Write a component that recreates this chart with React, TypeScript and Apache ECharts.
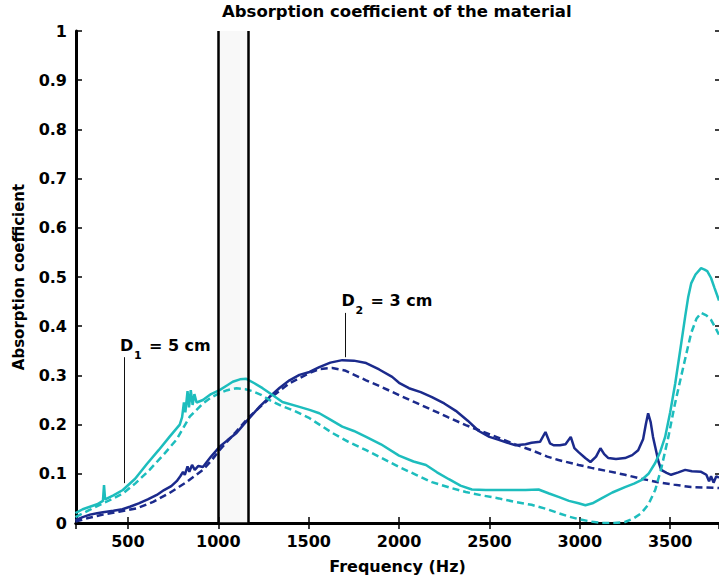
import React, { useEffect, useRef } from "react";
import * as echarts from "echarts";

const titleText = "Absorption coefficient of the material";
const xName = "Frequency (Hz)";
const yName = "Absorption coefficient";

const cyanSolidF = [210, 250, 290, 330, 362, 368, 374, 420, 472, 540, 605, 670, 730, 787, 800, 810, 818, 830, 838, 848, 858, 868, 880, 915, 960, 1007, 1050, 1080, 1120, 1155, 1200, 1245, 1300, 1355, 1449, 1505, 1559, 1620, 1686, 1750, 1818, 1900, 2000, 2080, 2149, 2210, 2276, 2340, 2403, 2480, 2600, 2700, 2772, 2830, 2882, 2940, 2993, 3031, 3070, 3120, 3180, 3250, 3300, 3340, 3380, 3417, 3445, 3472, 3500, 3528, 3555, 3583, 3600, 3616, 3640, 3671, 3690, 3705, 3726, 3745, 3770];
const cyanSolidV = [0.020, 0.028, 0.033, 0.038, 0.045, 0.077, 0.048, 0.056, 0.067, 0.090, 0.120, 0.148, 0.175, 0.200, 0.215, 0.245, 0.225, 0.268, 0.235, 0.270, 0.240, 0.262, 0.245, 0.250, 0.262, 0.270, 0.280, 0.287, 0.292, 0.293, 0.284, 0.274, 0.260, 0.246, 0.236, 0.230, 0.223, 0.210, 0.196, 0.187, 0.175, 0.160, 0.137, 0.125, 0.118, 0.103, 0.089, 0.076, 0.068, 0.067, 0.067, 0.067, 0.068, 0.060, 0.053, 0.045, 0.040, 0.036, 0.040, 0.050, 0.062, 0.073, 0.080, 0.087, 0.100, 0.122, 0.145, 0.175, 0.225, 0.284, 0.350, 0.420, 0.460, 0.487, 0.505, 0.518, 0.515, 0.512, 0.498, 0.478, 0.452];

const cyanDashedF = [210, 280, 362, 420, 472, 540, 620, 700, 770, 842, 915, 960, 1007, 1050, 1101, 1150, 1190, 1240, 1283, 1350, 1420, 1505, 1631, 1720, 1818, 1900, 2000, 2100, 2182, 2280, 2369, 2460, 2552, 2640, 2733, 2820, 2882, 2940, 2993, 3060, 3120, 3190, 3250, 3300, 3340, 3380, 3417, 3450, 3490, 3525, 3560, 3590, 3616, 3645, 3671, 3700, 3726, 3745, 3770];
const cyanDashedV = [0.012, 0.025, 0.040, 0.050, 0.060, 0.080, 0.108, 0.140, 0.170, 0.216, 0.243, 0.255, 0.264, 0.270, 0.274, 0.272, 0.268, 0.260, 0.250, 0.238, 0.228, 0.213, 0.183, 0.165, 0.148, 0.133, 0.114, 0.097, 0.083, 0.072, 0.063, 0.056, 0.050, 0.043, 0.037, 0.028, 0.020, 0.013, 0.008, 0.003, 0.000, 0.000, 0.002, 0.010, 0.020, 0.038, 0.067, 0.110, 0.175, 0.240, 0.297, 0.345, 0.386, 0.415, 0.427, 0.422, 0.413, 0.400, 0.383];

const navySolidF = [210, 250, 290, 330, 362, 420, 470, 511, 560, 610, 660, 700, 740, 770, 790, 805, 815, 830, 840, 855, 870, 890, 915, 960, 1007, 1050, 1101, 1140, 1172, 1230, 1283, 1340, 1394, 1449, 1505, 1559, 1620, 1686, 1750, 1818, 1890, 1962, 2000, 2055, 2120, 2182, 2250, 2314, 2380, 2441, 2500, 2552, 2600, 2645, 2700, 2733, 2780, 2810, 2835, 2855, 2890, 2921, 2950, 2970, 2993, 3030, 3059, 3090, 3114, 3135, 3158, 3200, 3250, 3290, 3323, 3350, 3365, 3378, 3392, 3405, 3417, 3435, 3450, 3480, 3505, 3545, 3583, 3620, 3671, 3700, 3715, 3726, 3740, 3755, 3770];
const navySolidV = [0.006, 0.012, 0.017, 0.020, 0.022, 0.025, 0.028, 0.033, 0.040, 0.048, 0.057, 0.067, 0.075, 0.085, 0.095, 0.104, 0.098, 0.115, 0.104, 0.118, 0.108, 0.116, 0.114, 0.135, 0.155, 0.168, 0.183, 0.200, 0.213, 0.237, 0.256, 0.275, 0.290, 0.301, 0.307, 0.317, 0.326, 0.331, 0.330, 0.325, 0.312, 0.297, 0.285, 0.274, 0.266, 0.256, 0.243, 0.228, 0.208, 0.187, 0.175, 0.169, 0.163, 0.158, 0.160, 0.163, 0.165, 0.185, 0.162, 0.158, 0.158, 0.160, 0.175, 0.152, 0.144, 0.132, 0.124, 0.135, 0.152, 0.140, 0.132, 0.130, 0.132, 0.138, 0.148, 0.170, 0.200, 0.223, 0.205, 0.175, 0.155, 0.125, 0.108, 0.102, 0.098, 0.103, 0.108, 0.105, 0.104, 0.098, 0.085, 0.095, 0.082, 0.095, 0.092];

const navyDashedF = [210, 280, 362, 450, 550, 640, 730, 820, 915, 960, 1007, 1090, 1172, 1280, 1394, 1505, 1559, 1631, 1700, 1818, 1900, 2000, 2090, 2182, 2270, 2369, 2460, 2552, 2640, 2733, 2820, 2882, 2993, 3065, 3160, 3250, 3340, 3433, 3520, 3616, 3700, 3770];
const navyDashedV = [0.003, 0.010, 0.017, 0.023, 0.030, 0.043, 0.061, 0.082, 0.108, 0.126, 0.148, 0.182, 0.216, 0.252, 0.284, 0.305, 0.313, 0.315, 0.310, 0.290, 0.277, 0.260, 0.245, 0.230, 0.215, 0.199, 0.186, 0.173, 0.160, 0.148, 0.135, 0.128, 0.118, 0.112, 0.105, 0.098, 0.090, 0.083, 0.078, 0.073, 0.072, 0.071];

const bandEdges = [1000, 1165];
const d1Leader = [478, 0.337, 0.081];
const d2Leader = [1704, 0.427, 0.337];
const d1Sub = "1";
const d2Sub = "2";
const d1Rest = "= 5 cm";
const d2Rest = "= 3 cm";

const CYAN = "#1DBDBD";
const NAVY = "#1B2A8C";
const FONT = "DejaVu Sans";

const pair = (f: number[], v: number[]) => f.map((x, i) => [x, v[i]]);

export default function App() {
  const ref = useRef<HTMLDivElement>(null);
  useEffect(() => {
    const chart = echarts.init(ref.current!, null, { renderer: "svg" });
    const labelStyle = { color: "#000", fontFamily: FONT, fontWeight: "bold" as const, fontSize: 16 };
    const tick = { inside: true, length: 6, lineStyle: { color: "#000", width: 1.5 } };
    const line = { lineStyle: { color: "#000", width: 3 } };
    const xCommon = { type: "value" as const, min: 213, max: 3770, splitNumber: 7, splitLine: { show: false }, axisLine: line, axisTick: tick };
    const yCommon = { type: "value" as const, min: 0, max: 1, interval: 0.1, splitLine: { show: false }, axisLine: line, axisTick: tick };
    const mkLine = (name: string, f: number[], v: number[], color: string, dashed: boolean) => ({
      name, type: "line", data: pair(f, v), showSymbol: false, symbol: "none", z: 2,
      lineStyle: { color, width: 2.5, type: dashed ? [7, 4] : "solid" },
    });
    chart.setOption({
      animation: false,
      backgroundColor: "#fff",
      title: { text: titleText, left: 222, top: 3, padding: 0, textStyle: { color: "#000", fontFamily: FONT, fontWeight: "bold", fontSize: 16.5 } },
      grid: { left: 76, top: 31, width: 645, height: 492, containLabel: false },
      xAxis: [
        { ...xCommon, position: "bottom", axisLabel: { ...labelStyle, margin: 10, showMinLabel: false, showMaxLabel: false, formatter: (v: number) => String(v) },
          name: xName, nameLocation: "middle", nameGap: 35, nameTextStyle: { color: "#000", fontFamily: FONT, fontWeight: "bold", fontSize: 16 } },
        { ...xCommon, position: "top", axisLabel: { show: false } },
      ],
      yAxis: [
        { ...yCommon, position: "left", axisLabel: { ...labelStyle, margin: 9 },
          name: yName, nameLocation: "middle", nameGap: 50, nameTextStyle: { color: "#000", fontFamily: FONT, fontWeight: "bold", fontSize: 15 } },
        { ...yCommon, position: "right", axisLine: { show: false }, axisLabel: { show: false }, axisTick: { ...tick, length: 4 } },
      ],
      series: [
        mkLine("D2 model", navyDashedF, navyDashedV, NAVY, true),
        mkLine("D2 measured", navySolidF, navySolidV, NAVY, false),
        mkLine("D1 model", cyanDashedF, cyanDashedV, CYAN, true),
        mkLine("D1 measured", cyanSolidF, cyanSolidV, CYAN, false),
        {
          name: "band", type: "line", data: [], z: 5,
          markArea: { silent: true, itemStyle: { color: "rgba(228,228,228,0.27)" }, data: [[{ xAxis: bandEdges[0] }, { xAxis: bandEdges[1] }]] },
          markLine: {
            silent: true, symbol: ["none", "none"], label: { show: false },
            lineStyle: { color: "#000", width: 2.5, type: "solid" },
            data: [
              { xAxis: bandEdges[0] },
              { xAxis: bandEdges[1] },
              [{ coord: [d1Leader[0], d1Leader[1]], lineStyle: { width: 1, color: "#111", type: "solid" } }, { coord: [d1Leader[0], d1Leader[2]] }],
              [{ coord: [d2Leader[0], d2Leader[1]], lineStyle: { width: 1, color: "#111", type: "solid" } }, { coord: [d2Leader[0], d2Leader[2]] }],
            ],
          },
        },
      ],
    });
    const big = `bold 16px "${FONT}"`;
    const small = `bold 11px "${FONT}"`;
    const label = (lead: number[], sub: string, rest: string) => {
      const p = chart.convertToPixel({ xAxisIndex: 0, yAxisIndex: 0 }, [lead[0], lead[1]]) as number[];
      return [
        { type: "text", x: p[0] - 4, y: p[1] - 12, style: { text: "D", font: big, fill: "#000", align: "left", verticalAlign: "middle" } },
        { type: "text", x: p[0] + 10, y: p[1] - 2, style: { text: sub, font: small, fill: "#000", align: "left", verticalAlign: "middle" } },
        { type: "text", x: p[0] + 25, y: p[1] - 12, style: { text: rest, font: big, fill: "#000", align: "left", verticalAlign: "middle" } },
      ];
    };
    chart.setOption({ graphic: [...label(d1Leader, d1Sub, d1Rest), ...label(d2Leader, d2Sub, d2Rest)] });
    return () => chart.dispose();
  }, []);
  return <div ref={ref} style={{ position: "fixed", left: 0, top: 0, width: 719, height: 580, background: "#fff" }} />;
}
